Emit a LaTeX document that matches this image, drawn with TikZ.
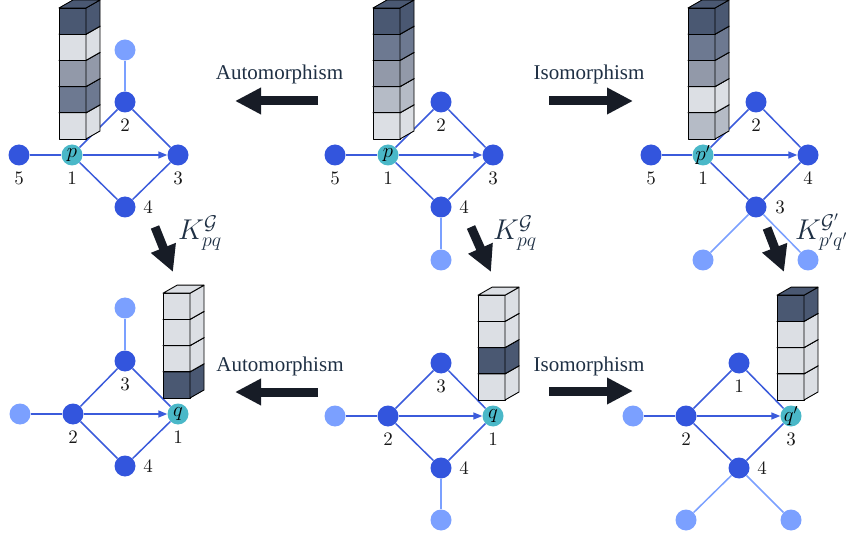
\documentclass[tikz,border=0pt]{standalone}
\usepackage{fontspec}
\usepackage{graphicx}
\usetikzlibrary{arrows.meta}
\newfontfamily\capfont{Liberation Serif}
\newfontfamily\numfont{lmroman10-regular}[Extension=.otf]

\definecolor{nodeblue}{HTML}{3355DD}
\definecolor{leafblue}{HTML}{7BA0FF}
\definecolor{edgeblue}{HTML}{3B5BDB}
\definecolor{rootteal}{HTML}{4AB8C8}
\definecolor{inknavy}{HTML}{1F3044}
\definecolor{arrowink}{HTML}{171C26}
\definecolor{shDark}{HTML}{4A5872}
\definecolor{shMidDark}{HTML}{6D7991}
\definecolor{shMid}{HTML}{9299A9}
\definecolor{shMidLight}{HTML}{B5BBC6}
\definecolor{shLight}{HTML}{DCDFE4}

\tikzset{
  vert/.style={circle, fill=nodeblue, minimum size=21pt, inner sep=0pt,
    font=\fontsize{22}{26}\selectfont},
  leaf/.style={vert, fill=leafblue},
  root/.style={vert, fill=rootteal},
  num/.style={font=\numfont\fontsize{19}{22}\selectfont, text=black!90, inner sep=0pt},
  link/.style={draw=edgeblue, line width=1.5pt},
  leaflink/.style={draw=leafblue, line width=1.5pt},
  pairlink/.style={link, -{Triangle[length=9pt,width=7pt]}},
  cube/.style={draw=black, line width=0.9pt, line join=round},
  bigarrow/.style={draw=arrowink, line width=9pt, -{Triangle[length=26pt,width=25pt]}},
  caption/.style={text=inknavy, font=\capfont\fontsize{21}{24}\selectfont},
  kernel/.style={text=inknavy, anchor=west, inner sep=0pt, font=\fontsize{24}{28}\selectfont}
}

% stack of cubes: x of front left, y of bottom, colours from bottom to top
\newcommand{\blockstack}[3]{%
  \foreach \c [count=\i from 0] in {#3} {
    \pgfmathsetmacro{\yb}{#2-26.2*\i}
    \draw[cube, fill=\c] (#1,\yb) rectangle ++(27,-26.2);
    \draw[cube, fill=\c] (#1+27,\yb) -- ++(14,-8) -- ++(0,-26.2) -- ++(-14,8) -- cycle;
    \draw[cube, fill=\c] (#1,\yb-26.2) -- ++(14,-8) -- ++(27,0) -- ++(-14,8) -- cycle;
  }}
\newcommand{\kerlabel}[1]{\scalebox{1.15}{$#1$}}
\newcommand{\rootlab}[1]{\makebox[0pt]{$#1$}}

\begin{document}
\begin{tikzpicture}[x=1pt, y=-1pt]
\useasboundingbox (0,0) rectangle (846,537);

% top left
\node[vert] (A5) at (19,155) {};
\node[root] (Ap) at (72,155) {\rootlab{p}};
\node[vert] (A2) at (125,102) {};
\node[vert] (A3) at (178,155) {};
\node[vert] (A4) at (125,207) {};
\node[leaf] (Al) at (125,50) {};
\node[num] (A5n) at (19,178.5) {5};
\node[num] (Apn) at (72,178.5) {1};
\node[num] (A2n) at (125,125) {2};
\node[num] (A3n) at (178,178.5) {3};
\node[num] (A4n) at (148,207.5) {4};
\draw[link] (A5) -- (Ap);
\draw[link] (Ap) -- (A2) -- (A3) -- (A4) -- (Ap);
\draw[pairlink] (Ap) -- (A3);
\draw[leaflink] (A2) -- (Al);
\blockstack{59}{139}{shLight,shMidDark,shMid,shLight,shDark}

% top middle
\node[vert] (B5) at (335,155) {};
\node[root] (Bp) at (388,155) {\rootlab{p}};
\node[vert] (B2) at (441,102) {};
\node[vert] (B3) at (493,155) {};
\node[vert] (B4) at (441,207) {};
\node[leaf] (Bl) at (441,260) {};
\node[num] (B5n) at (335,178.5) {5};
\node[num] (Bpn) at (388,178.5) {1};
\node[num] (B2n) at (441,125) {2};
\node[num] (B3n) at (493,178.5) {3};
\node[num] (B4n) at (464,207.5) {4};
\draw[link] (B5) -- (Bp);
\draw[link] (Bp) -- (B2) -- (B3) -- (B4) -- (Bp);
\draw[pairlink] (Bp) -- (B3);
\draw[leaflink] (B4) -- (Bl);
\blockstack{373}{139}{shLight,shMidLight,shMid,shMidDark,shDark}

% top right
\node[vert] (C5) at (651,155) {};
\node[root] (Cp) at (703,155) {\rootlab{p'}};
\node[vert] (C2) at (756,102) {};
\node[vert] (C4) at (808,155) {};
\node[vert] (C3) at (756,207) {};
\node[leaf] (Cla) at (703,260) {};
\node[leaf] (Clb) at (808,260) {};
\node[num] (C5n) at (651,178.5) {5};
\node[num] (Cpn) at (703,178.5) {1};
\node[num] (C2n) at (756,125) {2};
\node[num] (C4n) at (808,178.5) {4};
\node[num] (C3n) at (780,207.5) {3};
\draw[link] (C5) -- (Cp);
\draw[link] (Cp) -- (C2) -- (C4) -- (C3) -- (Cp);
\draw[pairlink] (Cp) -- (C4);
\draw[leaflink] (C3) -- (Cla);
\draw[leaflink] (C3) -- (Clb);
\blockstack{688}{139}{shMidLight,shLight,shMid,shMidDark,shDark}

% bottom left
\node[leaf] (Dl) at (20,414) {};
\node[vert] (D2) at (73,414) {};
\node[vert] (D3) at (125,361) {};
\node[root] (Dq) at (178,414) {\rootlab{q}};
\node[vert] (D4) at (125,466) {};
\node[leaf] (Dt) at (125,308) {};
\node[num] (D2n) at (73,437.5) {2};
\node[num] (D3n) at (125,384.5) {3};
\node[num] (Dqn) at (178,437.5) {1};
\node[num] (D4n) at (148,466.5) {4};
\draw[link] (Dl) -- (D2);
\draw[link] (D2) -- (D3) -- (Dq) -- (D4) -- (D2);
\draw[pairlink] (D2) -- (Dq);
\draw[leaflink] (D3) -- (Dt);
\blockstack{163}{398}{shDark,shLight,shLight,shLight}

% bottom middle
\node[leaf] (El) at (335,416) {};
\node[vert] (E2) at (388,416) {};
\node[vert] (E3) at (441,363) {};
\node[root] (Eq) at (493,416) {\rootlab{q}};
\node[vert] (E4) at (441,468) {};
\node[leaf] (Eb) at (441,520) {};
\node[num] (E2n) at (388,439.5) {2};
\node[num] (E3n) at (441,386.5) {3};
\node[num] (Eqn) at (493,439.5) {1};
\node[num] (E4n) at (464,468.5) {4};
\draw[link] (El) -- (E2);
\draw[link] (E2) -- (E3) -- (Eq) -- (E4) -- (E2);
\draw[pairlink] (E2) -- (Eq);
\draw[leaflink] (E4) -- (Eb);
\blockstack{478}{400}{shLight,shDark,shLight,shLight}

% bottom right
\node[leaf] (Fl) at (633,416) {};
\node[vert] (F2) at (686,416) {};
\node[vert] (F1) at (739,363) {};
\node[root] (Fq) at (791,416) {\rootlab{q'}};
\node[vert] (F4) at (739,468) {};
\node[leaf] (Fa) at (686,520) {};
\node[leaf] (Fb) at (791,520) {};
\node[num] (F2n) at (686,439.5) {2};
\node[num] (F1n) at (739,386.5) {1};
\node[num] (Fqn) at (791,439.5) {3};
\node[num] (F4n) at (762,468.5) {4};
\draw[link] (Fl) -- (F2);
\draw[link] (F2) -- (F1) -- (Fq) -- (F4) -- (F2);
\draw[pairlink] (F2) -- (Fq);
\draw[leaflink] (F4) -- (Fa);
\draw[leaflink] (F4) -- (Fb);
\blockstack{777}{400}{shLight,shLight,shLight,shDark}

% arrows between the panels
\coordinate (autoTopS) at (318,101);
\coordinate (autoTopE) at (235,101);
\coordinate (isoTopS) at (549,101);
\coordinate (isoTopE) at (633,101);
\coordinate (autoBotS) at (318,392);
\coordinate (autoBotE) at (235,392);
\coordinate (isoBotS) at (549,391);
\coordinate (isoBotE) at (633,391);
\coordinate (kerAS) at (155,227);
\coordinate (kerAE) at (173,272);
\coordinate (kerBS) at (471,227);
\coordinate (kerBE) at (491,272);
\coordinate (kerCS) at (767,228);
\coordinate (kerCE) at (784,272);
\draw[bigarrow] (autoTopS) -- (autoTopE);
\draw[bigarrow] (isoTopS) -- (isoTopE);
\draw[bigarrow] (autoBotS) -- (autoBotE);
\draw[bigarrow] (isoBotS) -- (isoBotE);
\draw[bigarrow] (kerAS) -- (kerAE);
\draw[bigarrow] (kerBS) -- (kerBE);
\draw[bigarrow] (kerCS) -- (kerCE);

\node[caption, anchor=base] (autoTop) at (279.5,80) {Automorphism};
\node[caption, anchor=base] (isoTop) at (589,80) {Isomorphism};
\node[caption, anchor=base] (autoBot) at (280,371) {Automorphism};
\node[caption, anchor=base] (isoBot) at (589,371) {Isomorphism};
\node[kernel] (kerA) at (178,233) {\kerlabel{K^{\mathcal{G}}_{pq}}};
\node[kernel] (kerB) at (493,233) {\kerlabel{K^{\mathcal{G}}_{pq}}};
\node[kernel] (kerC) at (795,232) {\kerlabel{K^{\mathcal{G}'}_{p'q'}}};
\end{tikzpicture}
\end{document}
